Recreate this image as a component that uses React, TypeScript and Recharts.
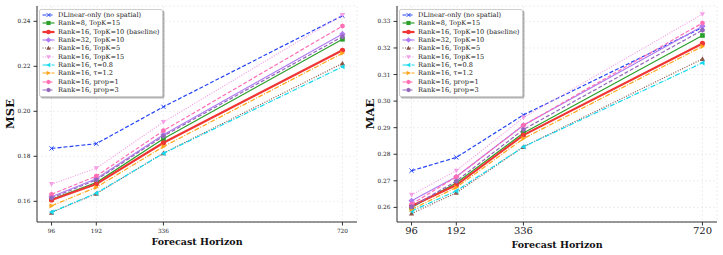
import { LineChart, Line, XAxis, YAxis, CartesianGrid, Legend } from "recharts";

const horizons = [96, 192, 336, 720];

const seriesNames = [
  "DLinear-only (no spatial)",
  "Rank=8, TopK=15",
  "Rank=16, TopK=10 (baseline)",
  "Rank=32, TopK=10",
  "Rank=16, TopK=5",
  "Rank=16, TopK=15",
  "Rank=16, τ=0.8",
  "Rank=16, τ=1.2",
  "Rank=16, prop=1",
  "Rank=16, prop=3",
];

// MSE
const mseDLinear = [0.1835, 0.1856, 0.202, 0.2425];
const mseRank8 = [0.1609, 0.1683, 0.1878, 0.232];
const mseBaseline = [0.1606, 0.1677, 0.186, 0.2271];
const mseRank32 = [0.162, 0.170, 0.1896, 0.2344];
const mseTopK5 = [0.155, 0.1634, 0.1814, 0.2213];
const mseTopK15 = [0.1676, 0.1747, 0.1952, 0.2428];
const mseTau08 = [0.1552, 0.1636, 0.1813, 0.2198];
const mseTau12 = [0.158, 0.1662, 0.1843, 0.2258];
const mseProp1 = [0.1631, 0.1712, 0.1914, 0.2379];
const mseProp3 = [0.1615, 0.1695, 0.189, 0.2332];

// MAE
const maeDLinear = [0.2738, 0.2788, 0.2948, 0.3277];
const maeRank8 = [0.26, 0.2692, 0.288, 0.3247];
const maeBaseline = [0.2605, 0.2684, 0.2872, 0.3217];
const maeRank32 = [0.2625, 0.2715, 0.2909, 0.3282];
const maeTopK5 = [0.2577, 0.2655, 0.2828, 0.3159];
const maeTopK15 = [0.2647, 0.2738, 0.2938, 0.3327];
const maeTau08 = [0.2586, 0.2662, 0.2828, 0.3144];
const maeTau12 = [0.2592, 0.2675, 0.2859, 0.3206];
const maeProp1 = [0.2612, 0.2715, 0.2909, 0.3294];
const maeProp3 = [0.2602, 0.2699, 0.2893, 0.3267];

const mseTicks = [0.16, 0.18, 0.2, 0.22, 0.24];
const maeTicks = [0.26, 0.27, 0.28, 0.29, 0.3, 0.31, 0.32, 0.33];

const SERIF = "'DejaVu Serif', serif";

type Style = { color: string; dash?: string; width: number; shape: string };
const STYLES: Style[] = [
  { color: "#2444f5", dash: "4 2", width: 1.2, shape: "x" },
  { color: "#2ca02c", width: 1.2, shape: "square" },
  { color: "#f03535", width: 2.2, shape: "circle" },
  { color: "#b07cf2", width: 1.2, shape: "diamond" },
  { color: "#8c564b", dash: "1 1.5", width: 1.2, shape: "triUp" },
  { color: "#f49ee6", dash: "1 1.5", width: 1.2, shape: "triDown" },
  { color: "#17d8ee", dash: "5 1.5 1 1.5", width: 1.2, shape: "triLeft" },
  { color: "#ffa51a", dash: "5 1.5 1 1.5", width: 1.2, shape: "triRight" },
  { color: "#ff6eb4", dash: "4 2", width: 1.2, shape: "hex" },
  { color: "#9467bd", dash: "4 2", width: 1.2, shape: "hex" },
];

const mseSeries = [mseDLinear, mseRank8, mseBaseline, mseRank32, mseTopK5, mseTopK15, mseTau08, mseTau12, mseProp1, mseProp3];
const maeSeries = [maeDLinear, maeRank8, maeBaseline, maeRank32, maeTopK5, maeTopK15, maeTau08, maeTau12, maeProp1, maeProp3];

function buildRows(series: number[][]) {
  return horizons.map((h, i) => {
    const row: Record<string, number> = { h };
    series.forEach((vals, j) => (row["s" + j] = vals[i]));
    return row;
  });
}

function Marker({ cx, cy, shape, color, r = 2.6 }: { cx: number; cy: number; shape: string; color: string; r?: number }) {
  if (cx == null || cy == null) return null;
  const pts = (arr: number[][]) => arr.map(([x, y]) => `${cx + x},${cy + y}`).join(" ");
  switch (shape) {
    case "circle":
      return <circle cx={cx} cy={cy} r={r} fill={color} />;
    case "square":
      return <rect x={cx - r * 0.9} y={cy - r * 0.9} width={r * 1.8} height={r * 1.8} fill={color} />;
    case "diamond":
      return <polygon points={pts([[0, -r * 1.2], [r * 1.2, 0], [0, r * 1.2], [-r * 1.2, 0]])} fill={color} />;
    case "triUp":
      return <polygon points={pts([[0, -r], [r, r * 0.8], [-r, r * 0.8]])} fill={color} />;
    case "triDown":
      return <polygon points={pts([[0, r], [r, -r * 0.8], [-r, -r * 0.8]])} fill={color} />;
    case "triLeft":
      return <polygon points={pts([[-r, 0], [r * 0.8, -r], [r * 0.8, r]])} fill={color} />;
    case "triRight":
      return <polygon points={pts([[r, 0], [-r * 0.8, -r], [-r * 0.8, r]])} fill={color} />;
    case "hex": {
      const a = [0, 1, 2, 3, 4, 5].map((k) => {
        const t = (Math.PI / 3) * k + Math.PI / 6;
        return [Math.cos(t) * r, Math.sin(t) * r];
      });
      return <polygon points={pts(a)} fill={color} />;
    }
    default:
      return (
        <path
          d={`M${cx - r * 0.8},${cy - r * 0.8}L${cx + r * 0.8},${cy + r * 0.8}M${cx - r * 0.8},${cy + r * 0.8}L${cx + r * 0.8},${cy - r * 0.8}`}
          stroke={color}
          strokeWidth={1}
        />
      );
  }
}

function LegendBox() {
  return (
    <div
      style={{
        background: "#fff",
        border: "1px solid #cfcfcf",
        borderRadius: 2,
        boxShadow: "1.5px 1.5px 0 rgba(0,0,0,0.3)",
        padding: "1px 3px 2px 2px",
        fontFamily: SERIF,
        fontSize: 6.6,
        color: "#222",
      }}
    >
      {seriesNames.map((name, i) => {
        const st = STYLES[i];
        return (
          <div key={name} style={{ display: "flex", alignItems: "center", height: 8.3, whiteSpace: "nowrap" }}>
            <svg width={13} height={8} style={{ flex: "none" }}>
              <line x1={0.5} y1={4} x2={12.5} y2={4} stroke={st.color} strokeWidth={st.width} strokeDasharray={st.dash} />
              <Marker cx={6.5} cy={4} shape={st.shape} color={st.color} r={2.3} />
            </svg>
            <span style={{ marginLeft: 3 }}>{name}</span>
          </div>
        );
      })}
    </div>
  );
}

function Panel({
  series,
  domain,
  ticks,
  yLabel,
  xTickSize,
  left,
}: {
  series: number[][];
  domain: [number, number];
  ticks: number[];
  yLabel: string;
  xTickSize: number;
  left: number;
}) {
  const rows = buildRows(series);
  return (
    <div style={{ position: "absolute", left, top: 0 }}>
      <LineChart width={362} height={255} data={rows} margin={{ top: 6, right: 5, bottom: 0, left: 7 }}>
        <CartesianGrid stroke="#e2e2e2" strokeDasharray="2 2" strokeWidth={0.6} />
        <XAxis
          dataKey="h"
          type="number"
          domain={[64.8, 751.2]}
          ticks={horizons}
          allowDataOverflow
          height={33}
          tickSize={3.5}
          tickMargin={xTickSize > 8 ? 1.5 : 3}
          tick={{ fontSize: xTickSize, fontFamily: SERIF, fill: "#222" }}
          axisLine={{ stroke: "#333", strokeWidth: 1 }}
          tickLine={{ stroke: "#333" }}
          label={{
            value: "Forecast Horizon",
            position: "insideBottom",
            offset: xTickSize > 8 ? 7 : 10,
            style: { fontFamily: SERIF, fontSize: 9.5, fontWeight: "bold", fill: "#111" },
          }}
        />
        <XAxis xAxisId="top" dataKey="h" type="number" domain={[64.8, 751.2]} orientation="top" height={0} tick={false} tickLine={false} axisLine={{ stroke: "#333" }} />
        <YAxis
          type="number"
          domain={domain}
          ticks={ticks}
          allowDataOverflow
          width={30}
          tickSize={3.5}
          tickMargin={3}
          tickFormatter={(v: number) => v.toFixed(2)}
          tick={{ fontSize: 5.8, fontFamily: SERIF, fill: "#222" }}
          axisLine={{ stroke: "#333", strokeWidth: 1 }}
          tickLine={{ stroke: "#333" }}
          label={{
            value: yLabel,
            angle: -90,
            position: "insideLeft",
            offset: 0,
            dx: 3,
            style: { fontFamily: SERIF, fontSize: 11.5, fontWeight: "bold", fill: "#111", textAnchor: "middle" },
          }}
        />
        <YAxis yAxisId="right" orientation="right" width={0} domain={domain} tick={false} tickLine={false} axisLine={{ stroke: "#333" }} />
        <Legend
          layout="vertical"
          align="center"
          verticalAlign="middle"
          content={() => <LegendBox />}
          wrapperStyle={{ left: 39, top: 9, width: "auto", height: "auto" }}
        />
        {series.map((_, i) => {
          const st = STYLES[i];
          return (
            <Line
              key={i}
              dataKey={"s" + i}
              name={seriesNames[i]}
              type="linear"
              stroke={st.color}
              strokeWidth={st.width}
              strokeDasharray={st.dash}
              isAnimationActive={false}
              dot={(p: any) => <Marker key={`d${i}-${p.index}`} cx={p.cx} cy={p.cy} shape={st.shape} color={st.color} />}
              activeDot={false}
            />
          );
        })}
      </LineChart>
    </div>
  );
}

export default function App() {
  return (
    <div style={{ position: "absolute", left: 0, top: 0, width: 723, height: 255, background: "#fff" }}>
      <Panel series={mseSeries} domain={[0.1508, 0.2468]} ticks={mseTicks} yLabel="MSE" xTickSize={5.8} left={0} />
      <Panel series={maeSeries} domain={[0.2545, 0.3358]} ticks={maeTicks} yLabel="MAE" xTickSize={10} left={360} />
    </div>
  );
}
